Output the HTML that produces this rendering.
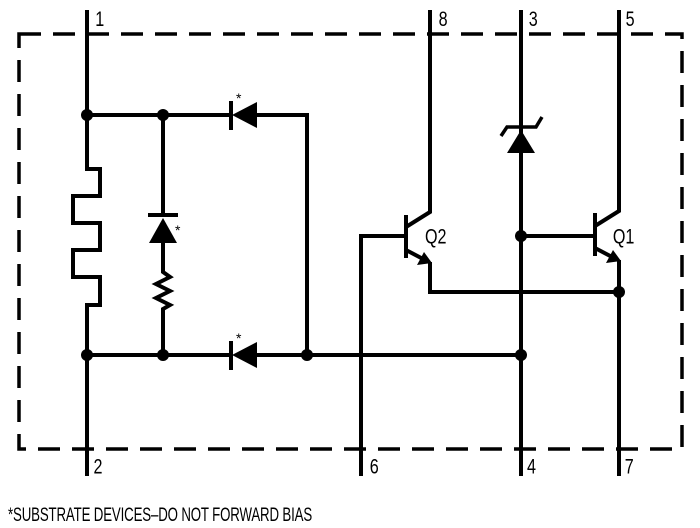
<!DOCTYPE html>
<html><head><style>body{margin:0;background:#fff}svg{display:block}
.t{font-family:"Liberation Sans",sans-serif;font-size:19px;fill:#000}
.s{font-family:"Liberation Sans",sans-serif;font-size:14px;fill:#000}
</style></head><body>
<svg width="700" height="528" viewBox="0 0 700 528" xmlns="http://www.w3.org/2000/svg">
<g fill="none" stroke="#000" stroke-width="4">
<path d="M19 34 H682 V449 H19 Z" stroke-width="3.5" stroke-dasharray="22 12"/>
<path d="M87 10 V169 H100 V196 H73 V223 H100 V250 H73 V277 H100 V305 H87 V476"/>
<path d="M87 115 H232 M257 115 H307 V355"/>
<path d="M87 355 H232 M257 355 H521"/>
<path d="M163 115 V215 M163 242 V272 l7 5 l-14 7 l14 7 l-14 7 l14 7 l-7 4 V355"/>
<path d="M148 215 H178"/>
<path d="M231 101 V130 M231 341 V370"/>
<path d="M430 10 V212 L406 227 M406 215 V258 M406 250 L425 260 M430 262 V292 H619"/>
<path d="M361 476 V236 H406"/>
<path d="M521 10 V476 M521 236 H595"/>
<path d="M595 213 V256 M595 226 L619 211 V10 M595 248 L614 258 M619 260 V476"/>
<path d="M501 136 L507 127 H536 L542 117" stroke-width="3.5"/>
</g>
<g fill="#000">
<polygon points="232,115 257,102 257,128"/>
<polygon points="232,355 257,342 257,368"/>
<polygon points="163,218 149,243 177,243"/>
<polygon points="521,130 507,153 535,153"/>
<polygon points="432,263 417,265 424,252"/>
<polygon points="621,261 606,263 613,250"/>
<circle cx="87" cy="115" r="6"/><circle cx="163" cy="115" r="6"/>
<circle cx="87" cy="355" r="6"/><circle cx="163" cy="355" r="6"/>
<circle cx="307" cy="355" r="6"/><circle cx="521" cy="355" r="6"/>
<circle cx="521" cy="236" r="6"/><circle cx="619" cy="292" r="6"/>
</g>
<g transform="scale(0.85,1.1)">
<text class="t" x="112" y="23.6">1</text>
<text class="t" x="516" y="23.6">8</text>
<text class="t" x="622" y="23.6">3</text>
<text class="t" x="736" y="23.6">5</text>
<text class="t" x="110" y="430.5">2</text>
<text class="t" x="435" y="430.5">6</text>
<text class="t" x="620" y="430.5">4</text>
<text class="t" x="735" y="430.5">7</text>
<text class="t" x="500" y="221.5">Q2</text>
<text class="t" x="721" y="221.5">Q1</text>
</g>
<g transform="translate(8,521) scale(0.78,1.15)">
<text class="t" x="0" y="0" style="font-size:17px" textLength="390" lengthAdjust="spacing">*SUBSTRATE DEVICES–DO NOT FORWARD BIAS</text>
</g>
<text class="s" x="236" y="103">*</text><text class="s" x="236" y="343">*</text><text class="s" x="175" y="235">*</text>
</svg>
</body></html>
